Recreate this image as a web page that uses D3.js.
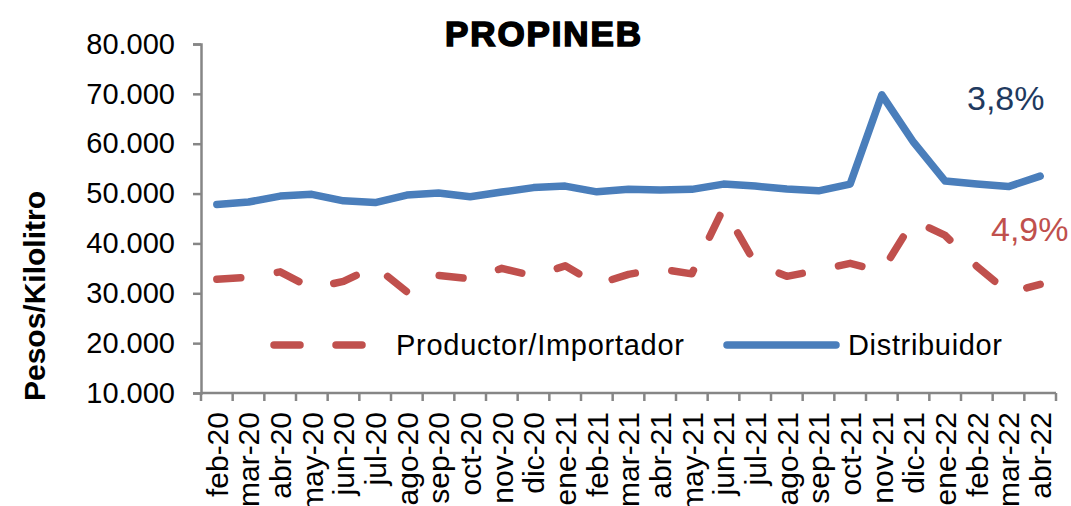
<!DOCTYPE html>
<html>
<head>
<meta charset="utf-8">
<script src="https://cdn.jsdelivr.net/npm/d3@7"></script>
<style>
  body { margin: 0; background: #fff; }
  svg { display: block; font-family: "Liberation Sans", Arial, sans-serif; }
</style>
</head>
<body>
<svg id="chart" width="1071" height="506"></svg>
<script>
// months on the x axis
const months = ['feb-20','mar-20','abr-20','may-20','jun-20','jul-20','ago-20','sep-20','oct-20','nov-20','dic-20','ene-21',
  'feb-21','mar-21','abr-21','may-21','jun-21','jul-21','ago-21','sep-21','oct-21','nov-21','dic-21','ene-22','feb-22','mar-22','abr-22'];
// series values (pesos per kilolitre)
const distribuidor = [47800, 48300, 49500, 49850, 48550, 48200, 49700, 50100, 49350, 50300, 51200, 51500, 50350, 50850,
  50700, 50850, 51900, 51500, 50900, 50550, 51900, 69800, 60300, 52500, 51900, 51400, 53500];
const productor = [32800, 33200, 34300, 31000, 32400, 35400, 30300, 33600, 32900, 35000, 33500, 35500, 31800, 33800,
  34900, 33900, 47100, 36000, 33400, 34600, 36000, 34400, 44600, 41600, 35400, 30100, 31800];
const yTicks = [10000, 20000, 30000, 40000, 50000, 60000, 70000, 80000];
const labels = { distribuidor: '3,8%', productor: '4,9%' };

const svg = d3.select('#chart');
const plotLeft = 201, plotRight = 1056, plotTop = 44, plotBottom = 393;
const axisColor = '#868686';
const blue = '#4A7EBB', red = '#C0504D';

// scales
const x = d3.scaleBand().domain(months).range([plotLeft, plotRight]);
const y = d3.scaleLinear().domain([10000, 80000]).range([plotBottom, plotTop]);
const fmt = v => d3.format(',')(v).replace(/,/g, '.');

// y axis
const yAxis = svg.append('g').attr('transform', 'translate(' + plotLeft + ',0)')
  .call(d3.axisLeft(y).tickValues(yTicks).tickSize(8).tickPadding(18).tickFormat(fmt));
yAxis.select('.domain').attr('stroke', axisColor).attr('stroke-width', 2.5);
yAxis.selectAll('.tick line').attr('stroke', axisColor).attr('stroke-width', 2.5);
yAxis.selectAll('.tick text').attr('font-size', 29).attr('fill', '#000')
  .attr('font-family', '"Liberation Sans", Arial, sans-serif');

// x axis, ticks between the categories
const xg = svg.append('g');
xg.append('line').attr('x1', plotLeft).attr('x2', plotRight).attr('y1', plotBottom).attr('y2', plotBottom)
  .attr('stroke', axisColor).attr('stroke-width', 2.5);
xg.selectAll('.xt').data(months.concat(['end'])).enter().append('line')
  .attr('x1', (d, i) => plotLeft + i * x.bandwidth()).attr('x2', (d, i) => plotLeft + i * x.bandwidth())
  .attr('y1', plotBottom).attr('y2', plotBottom + 8).attr('stroke', axisColor).attr('stroke-width', 2.5);
xg.selectAll('.xl').data(months).enter().append('text')
  .attr('transform', d => 'translate(' + (x(d) + x.bandwidth() / 2) + ',' + (plotBottom + 19) + ') rotate(-90)')
  .attr('text-anchor', 'end').attr('dy', '0.36em').attr('font-size', 30).text(d => d);

// lines
const line = d3.line().x((d, i) => x(months[i]) + x.bandwidth() / 2).y(d => y(d));
svg.append('path').datum(productor).attr('d', line).attr('fill', 'none')
  .attr('stroke', red).attr('stroke-width', 7.5).attr('stroke-linecap', 'round')
  .attr('stroke-linejoin', 'round').attr('stroke-dasharray', '24,37');
svg.append('path').datum(distribuidor).attr('d', line).attr('fill', 'none')
  .attr('stroke', blue).attr('stroke-width', 7.5).attr('stroke-linecap', 'round')
  .attr('stroke-linejoin', 'round');

// growth labels
svg.append('text').attr('x', 967).attr('y', 110).attr('font-size', 34).attr('fill', '#1F3A5F').text(labels.distribuidor);
svg.append('text').attr('x', 991).attr('y', 241).attr('font-size', 34).attr('fill', red).text(labels.productor);

// legend
const legend = svg.append('g');
legend.append('line').attr('x1', 274).attr('x2', 362).attr('y1', 345).attr('y2', 345)
  .attr('stroke', red).attr('stroke-width', 7.5).attr('stroke-linecap', 'round').attr('stroke-dasharray', '26,36');
legend.append('text').attr('x', 396).attr('y', 355).attr('font-size', 29).attr('textLength', 288).text('Productor/Importador');
legend.append('line').attr('x1', 727).attr('x2', 836).attr('y1', 345).attr('y2', 345)
  .attr('stroke', blue).attr('stroke-width', 7.5).attr('stroke-linecap', 'round');
legend.append('text').attr('x', 848).attr('y', 355).attr('font-size', 29).attr('textLength', 154).text('Distribuidor');

// titles
svg.append('text').attr('x', 543).attr('y', 46).attr('text-anchor', 'middle').attr('font-size', 35)
  .attr('font-weight', 'bold').attr('stroke', '#000').attr('stroke-width', 1.6).attr('textLength', 196)
  .text('PROPINEB');
svg.append('text').attr('transform', 'translate(45,296) rotate(-90)').attr('text-anchor', 'middle')
  .attr('font-size', 30).attr('font-weight', 'bold').text('Pesos/Kilolitro');
</script>
</body>
</html>
